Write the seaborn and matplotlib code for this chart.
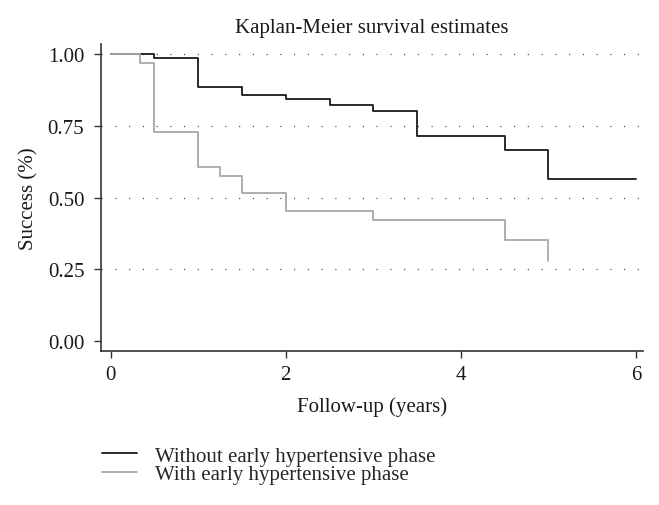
import numpy as np
import pandas as pd
import matplotlib
matplotlib.use('Agg')
import matplotlib.pyplot as plt
import seaborn as sns

# data (Kaplan-Meier steps)
group_names = ['Without early hypertensive phase', 'With early hypertensive phase']
times_without = [0, 0.5, 1.0, 1.5, 2.0, 2.5, 3.0, 3.5, 4.5, 5.0, 6.0]
surv_without = [1.0, 0.986, 0.886, 0.856, 0.842, 0.823, 0.800, 0.713, 0.667, 0.564, 0.564]
times_with = [0, 0.33, 0.5, 1.0, 1.25, 1.5, 2.0, 3.0, 4.5, 5.0]
surv_with = [1.0, 0.970, 0.727, 0.606, 0.576, 0.516, 0.454, 0.422, 0.352, 0.28]
y_ticks = [0.0, 0.25, 0.5, 0.75, 1.0]
x_ticks = [0, 2, 4, 6]

df = pd.concat([
    pd.DataFrame({'time': times_without, 'surv': surv_without, 'group': group_names[0]}),
    pd.DataFrame({'time': times_with, 'surv': surv_with, 'group': group_names[1]}),
], ignore_index=True)

sns.set_style('white')
plt.rcParams['font.family'] = ['Liberation Serif', 'DejaVu Serif']

FS = 15
fig = plt.figure(figsize=(6.59, 5.06), dpi=100)
ax = fig.add_axes([0.1533, 0.3043, 0.8224, 0.6067])

# gridlines (dotted, no line at 0)
for y in y_ticks[1:]:
    ax.axhline(y, color='#555555', linestyle=(0, (1, 10)), linewidth=0.9, zorder=0)

sns.lineplot(
    data=df, x='time', y='surv', hue='group',
    palette={group_names[0]: '#1a1a1a', group_names[1]: '#a8a8a8'},
    estimator=None, sort=False, drawstyle='steps-post',
    linewidth=1.3, ax=ax, legend=True
)

ax.set_xlim(-0.11, 6.08)
ax.set_ylim(-0.035, 1.035)
ax.set_xticks(x_ticks)
ax.set_yticks(y_ticks)
ax.set_yticklabels([f'{v:.2f}' for v in y_ticks])
ax.tick_params(axis='both', direction='out', length=5, width=1, color='#333333',
               labelsize=FS, labelcolor='#1a1a1a', left=True, bottom=True)
ax.tick_params(axis='y', pad=7)
ax.tick_params(axis='x', pad=5)

for s in ['top', 'right']:
    ax.spines[s].set_visible(False)
for s in ['left', 'bottom']:
    ax.spines[s].set_color('#333333')
    ax.spines[s].set_linewidth(1.2)

ax.set_title('Kaplan-Meier survival estimates', fontsize=FS, color='#1a1a1a', pad=9)
ax.set_xlabel('Follow-up (years)', fontsize=FS, color='#1a1a1a', labelpad=9)
ax.set_ylabel('Success (%)', fontsize=FS, color='#1a1a1a', labelpad=7)

handles, labels = ax.get_legend_handles_labels()
ax.get_legend().remove()
fig.legend(handles, labels, loc='upper left', bbox_to_anchor=(0.1543, 0.1166),
           frameon=False, fontsize=FS, handlelength=1.68, handletextpad=0.87,
           labelspacing=-0.05, borderpad=0, borderaxespad=0)

plt.savefig('out.png', dpi=100)
